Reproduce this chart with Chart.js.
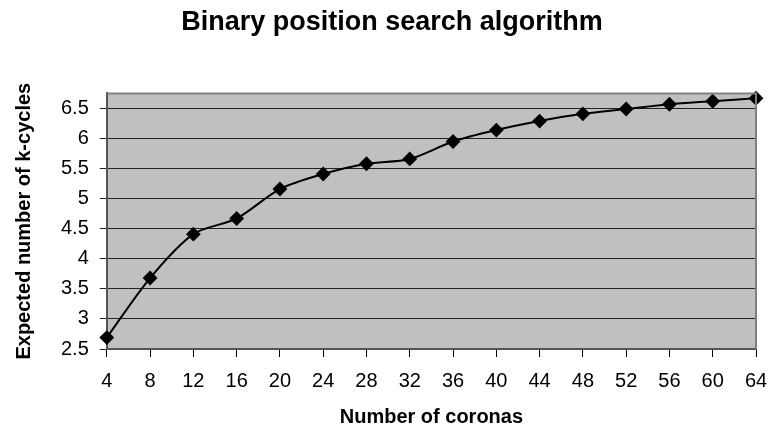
<!DOCTYPE html>
<html>
<head>
<meta charset="utf-8">
<script src="https://cdn.jsdelivr.net/npm/chart.js@4.4.1/dist/chart.umd.min.js"></script>
<style>
  html, body { margin: 0; padding: 0; background: #fff; }
  #wrap { width: 769px; height: 430px; position: relative; }
</style>
</head>
<body>
<div id="wrap"><canvas id="chart"></canvas></div>
<script>
// Data
const coronas = ['4', '8', '12', '16', '20', '24', '28', '32', '36', '40', '44', '48', '52', '56', '60', '64'];
const expectedKCycles = [2.69, 3.68, 4.41, 4.67, 5.16, 5.41, 5.58, 5.66, 5.95, 6.14, 6.29, 6.41, 6.49, 6.57, 6.62, 6.67];
const yTicks = [2.5, 3, 3.5, 4, 4.5, 5, 5.5, 6, 6.5];

const FONT = '"Liberation Sans", Arial, Helvetica, sans-serif';

// Grey plot area plus the light frame on top and right
const plotArea = {
    id: 'plotArea',
    beforeDraw(chart) {
        const { ctx, chartArea: a } = chart;
        ctx.save();
        ctx.fillStyle = '#c0c0c0';
        ctx.fillRect(a.left, a.top, a.right - a.left, a.bottom - a.top);
        ctx.restore();
    },
    afterDatasetsDraw(chart) {
        const { ctx, chartArea: a } = chart;
        ctx.save();
        ctx.strokeStyle = '#808080';
        ctx.lineWidth = 2;
        ctx.beginPath();
        ctx.moveTo(a.left, a.top);
        ctx.lineTo(a.right, a.top);
        ctx.lineTo(a.right, a.bottom);
        ctx.stroke();
        ctx.restore();
    }
};

new Chart(document.getElementById('chart'), {
    type: 'line',
    data: {
        labels: coronas,
        datasets: [{
            data: expectedKCycles,
            borderColor: '#000',
            borderWidth: 2,
            tension: 0.3,
            pointStyle: 'rectRot',
            pointRadius: 6,
            pointBackgroundColor: '#000',
            pointBorderColor: '#000',
            clip: false
        }]
    },
    options: {
        responsive: true,
        maintainAspectRatio: false,
        animation: false,
        layout: { padding: { left: 28, right: 13, top: 6, bottom: 1 } },
        plugins: {
            legend: { display: false },
            tooltip: { enabled: false },
            title: {
                display: true,
                text: 'Binary position search algorithm',
                color: '#000',
                font: { family: FONT, size: 27, weight: 'bold' },
                padding: { top: 0, bottom: 55 }
            }
        },
        scales: {
            x: {
                offset: false,
                afterFit(scale) {
                    scale.paddingRight = 0;
                },
                grid: {
                    display: true,
                    drawOnChartArea: false,
                    drawTicks: true,
                    tickLength: 8,
                    color: '#000'
                },
                border: { color: '#555', width: 2 },
                ticks: {
                    color: '#000',
                    font: { family: FONT, size: 20 },
                    padding: 12,
                    maxRotation: 0,
                    autoSkip: false
                },
                title: {
                    display: true,
                    text: 'Number of coronas',
                    color: '#000',
                    font: { family: FONT, size: 20, weight: 'bold' },
                    padding: { top: 0, bottom: 0 }
                }
            },
            y: {
                min: 2.5,
                max: 6.75,
                afterBuildTicks(scale) {
                    scale.ticks = yTicks.map(v => ({ value: v }));
                },
                grid: {
                    color: '#222',
                    lineWidth: 1,
                    tickLength: 7
                },
                border: { color: '#555', width: 2 },
                ticks: {
                    color: '#000',
                    font: { family: FONT, size: 20 },
                    padding: 11,
                    callback: v => String(v)
                },
                title: {
                    display: true,
                    text: 'Expected number of k-cycles',
                    color: '#000',
                    font: { family: FONT, size: 20, weight: 'bold' },
                    padding: { top: -16, bottom: 14 }
                }
            }
        }
    },
    plugins: [plotArea]
});
</script>
</body>
</html>
